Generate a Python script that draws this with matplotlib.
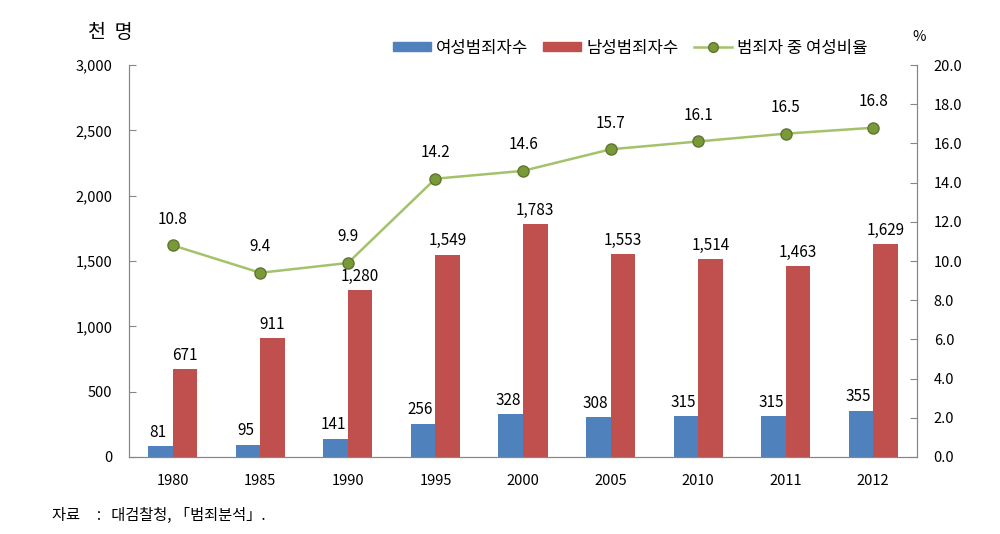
import numpy as np
import matplotlib.pyplot as plt
from matplotlib.lines import Line2D
from matplotlib.patches import Patch

plt.rcParams['font.family'] = ['Noto Sans CJK KR', 'DejaVu Sans']

years = ['1980', '1985', '1990', '1995', '2000', '2005', '2010', '2011', '2012']
female = [81, 95, 141, 256, 328, 308, 315, 315, 355]
male = [671, 911, 1280, 1549, 1783, 1553, 1514, 1463, 1629]
ratio = [10.8, 9.4, 9.9, 14.2, 14.6, 15.7, 16.1, 16.5, 16.8]

blue = '#4F81BD'
red = '#C0504D'
green = '#A4C26A'

fig = plt.figure(figsize=(10, 5.34), dpi=100)
ax = fig.add_axes([0.129, 0.1442, 0.788, 0.734])
ax2 = ax.twinx()

x = np.arange(len(years))
w = 0.28
ax.bar(x - w / 2, female, w, color=blue)
ax.bar(x + w / 2, male, w, color=red)

for xi, v in zip(x, female):
    ax.text(xi - w / 2 - 0.03, v + 40, f'{v:,}', ha='center', va='bottom', fontsize=11)
for xi, v in zip(x, male):
    ax.text(xi + w / 2, v + 40, f'{v:,}', ha='center', va='bottom', fontsize=11)

ax2.plot(x, ratio, color=green, lw=1.8, marker='o', ms=8,
         mfc='#7A9A3A', mec='#5F7530', zorder=3)
for xi, v in zip(x, ratio):
    ax2.text(xi, v + 0.9, f'{v:.1f}', ha='center', va='bottom', fontsize=11)

ax.set_xlim(-0.5, len(years) - 0.5)
ax.set_ylim(0, 3000)
ax2.set_ylim(0, 20)
ax.set_yticks(np.arange(0, 3001, 500))
ax.set_yticklabels([f'{v:,}' for v in range(0, 3001, 500)])
ax2.set_yticks(np.arange(0, 20.1, 2))
ax2.set_yticklabels([f'{v:.1f}' for v in np.arange(0, 20.1, 2)])
ax.set_xticks(x)
ax.set_xticklabels(years)

for a in (ax, ax2):
    a.spines['top'].set_visible(False)
    for s in a.spines.values():
        s.set_color('#868686')
    a.tick_params(labelsize=10.5, color='#868686')
ax.tick_params(axis='y', direction='in', length=5, pad=12)
ax2.tick_params(axis='y', direction='in', length=5, pad=12)
ax.tick_params(axis='x', length=0, pad=12)

fig.text(0.088, 0.94, '천  명', fontsize=14, ha='left', va='center')
fig.text(0.912, 0.93, '%', fontsize=10.5, ha='left', va='center')
fig.text(0.052, 0.035, '자료     :   대검찰청, 「범죄분석」.', fontsize=11, ha='left', va='center')

handles = [Patch(color=blue), Patch(color=red),
           Line2D([0], [0], color=green, lw=1.8, marker='o', ms=7,
                  mfc='#7A9A3A', mec='#5F7530')]
labels = ['여성범죄자수', '남성범죄자수', '범죄자 중 여성비율']
fig.legend(handles, labels, loc='center', bbox_to_anchor=(0.63, 0.91), ncol=3,
           frameon=False, fontsize=12, handlelength=2.3, handleheight=0.5,
           columnspacing=0.9, handletextpad=0.3)

fig.savefig('out.png', dpi=100)
